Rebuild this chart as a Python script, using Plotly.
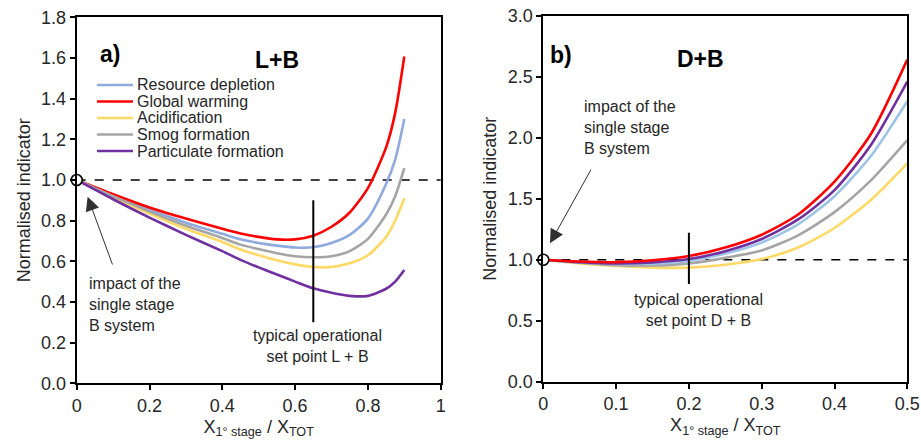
import plotly.graph_objects as go

# ---------------- data ----------------
series_names = ["Resource depletion", "Global warming", "Acidification",
                "Smog formation", "Particulate formation"]

# Panel a) L+B
x_lb = [0, 0.1, 0.2, 0.3, 0.4, 0.45, 0.5, 0.55, 0.6, 0.65, 0.7, 0.75, 0.8, 0.85, 0.875, 0.9]
rd_lb = [1.0, 0.925, 0.855, 0.79, 0.735, 0.708, 0.69, 0.677, 0.668, 0.669, 0.69, 0.73, 0.81, 0.98, 1.10, 1.30]
gw_lb = [1.0, 0.93, 0.865, 0.81, 0.76, 0.737, 0.72, 0.708, 0.708, 0.726, 0.77, 0.84, 0.96, 1.16, 1.33, 1.607]
ac_lb = [1.0, 0.915, 0.835, 0.76, 0.695, 0.658, 0.63, 0.605, 0.585, 0.572, 0.572, 0.59, 0.63, 0.72, 0.80, 0.91]
sm_lb = [1.0, 0.92, 0.845, 0.775, 0.715, 0.682, 0.66, 0.64, 0.625, 0.62, 0.625, 0.65, 0.71, 0.83, 0.92, 1.058]
pm_lb = [1.0, 0.905, 0.815, 0.73, 0.65, 0.607, 0.57, 0.535, 0.50, 0.467, 0.445, 0.43, 0.43, 0.465, 0.50, 0.557]

# Panel b) D+B
x_db = [0, 0.05, 0.1, 0.15, 0.2, 0.25, 0.3, 0.35, 0.4, 0.45, 0.5]
gw_db = [1.0, 0.985, 0.98, 0.995, 1.03, 1.10, 1.205, 1.37, 1.64, 2.03, 2.64]
pm_db = [1.0, 0.98, 0.97, 0.978, 1.005, 1.07, 1.17, 1.33, 1.57, 1.94, 2.46]
rd_db = [1.0, 0.978, 0.965, 0.968, 0.99, 1.05, 1.14, 1.29, 1.52, 1.85, 2.30]
sm_db = [1.0, 0.975, 0.955, 0.952, 0.97, 1.015, 1.075, 1.20, 1.39, 1.65, 1.98]
ac_db = [1.0, 0.97, 0.948, 0.935, 0.935, 0.958, 1.005, 1.10, 1.26, 1.49, 1.79]

# axis ticks
yticks_a = [0, 0.2, 0.4, 0.6, 0.8, 1.0, 1.2, 1.4, 1.6, 1.8]
xticks_a = [0, 0.2, 0.4, 0.6, 0.8, 1]
xticklabels_a = ["0", "0.2", "0.4", "0.6", "0.8", "1"]
yticks_b = [0, 0.5, 1.0, 1.5, 2.0, 2.5, 3.0]
xticks_b = [0, 0.1, 0.2, 0.3, 0.4, 0.5]
xticklabels_b = ["0", "0.1", "0.2", "0.3", "0.4", "0.5"]

setpoint_a = 0.65
setpoint_b = 0.2

# ---------------- styling ----------------
FONT = "Liberation Sans, Arial, sans-serif"
TXT = "#262626"
C_RD_A = "#8FAADC"
C_RD_B = "#9DC3E6"
C_GW = "#FF0000"
C_AC = "#FFD966"
C_SM = "#A5A5A5"
C_PM = "#7030A0"
LW = 2.6
W, H = 921, 442

fig = go.Figure()

def add_line(x, y, name, color, xa, ya):
    fig.add_trace(go.Scatter(x=x, y=y, name=name, mode="lines",
                             line=dict(color=color, width=LW, shape="spline", smoothing=0.7),
                             xaxis=xa, yaxis=ya, showlegend=False))

# panel a
add_line(x_lb, rd_lb, series_names[0], C_RD_A, "x", "y")
add_line(x_lb, gw_lb, series_names[1], C_GW, "x", "y")
add_line(x_lb, ac_lb, series_names[2], C_AC, "x", "y")
add_line(x_lb, sm_lb, series_names[3], C_SM, "x", "y")
add_line(x_lb, pm_lb, series_names[4], C_PM, "x", "y")

# panel b
add_line(x_db, ac_db, series_names[2], C_AC, "x2", "y2")
add_line(x_db, sm_db, series_names[3], C_SM, "x2", "y2")
add_line(x_db, rd_db, series_names[0], C_RD_B, "x2", "y2")
add_line(x_db, pm_db, series_names[4], C_PM, "x2", "y2")
add_line(x_db, gw_db, series_names[1], C_GW, "x2", "y2")

# setpoint vertical lines
fig.add_trace(go.Scatter(x=[setpoint_a, setpoint_a], y=[0.3, 0.9], mode="lines",
                         line=dict(color="black", width=2), xaxis="x", yaxis="y", showlegend=False))
fig.add_trace(go.Scatter(x=[setpoint_b, setpoint_b], y=[0.8, 1.22], mode="lines",
                         line=dict(color="black", width=2), xaxis="x2", yaxis="y2", showlegend=False))

# single-stage reference points
for xa, ya in (("x", "y"), ("x2", "y2")):
    fig.add_trace(go.Scatter(x=[0], y=[1.0], mode="markers", cliponaxis=False,
                             marker=dict(size=11, color="white", line=dict(color="black", width=1.6)),
                             xaxis=xa, yaxis=ya, showlegend=False))

# dashed reference lines at 1.0
for xr, yr in (("x domain", "y"), ("x2 domain", "y2")):
    fig.add_shape(type="line", xref=xr, yref=yr, x0=0, x1=1, y0=1, y1=1,
                  line=dict(color="black", width=1.5, dash="dash"), layer="below")

# manual legend (panel a)
legend_colors = [C_RD_A, C_GW, C_AC, C_SM, C_PM]
legend_rows_px = [85, 101.5, 118, 134.5, 151]
ann = []
for name, col, ypx in zip(series_names, legend_colors, legend_rows_px):
    fig.add_shape(type="line", xref="paper", yref="paper",
                  x0=97 / W, x1=133 / W, y0=1 - ypx / H, y1=1 - ypx / H,
                  line=dict(color=col, width=LW))
    ann.append(dict(text=name, xref="paper", yref="paper", x=135 / W, y=1 - ypx / H,
                    xanchor="left", yanchor="middle", showarrow=False,
                    font=dict(size=16, family=FONT, color=TXT)))

axis_common = dict(showline=True, linecolor="black", linewidth=2, mirror=True,
                   ticks="outside", ticklen=5, tickwidth=1.5, tickcolor="black",
                   showgrid=False, zeroline=False, automargin=False,
                   tickfont=dict(family=FONT, size=18, color=TXT))

xtitle = "X<sub>1° stage</sub> / X<sub>TOT</sub>"
tfont = dict(size=18, family=FONT, color=TXT)

fig.update_layout(
    width=W, height=H,
    margin=dict(l=0, r=0, t=0, b=0),
    paper_bgcolor="white", plot_bgcolor="white",
    font=dict(family=FONT, color=TXT),
    xaxis=dict(domain=[76.7 / W, 440.7 / W], range=[0, 1], anchor="y",
               tickvals=xticks_a, ticktext=xticklabels_a,
               title=dict(text=xtitle, font=tfont, standoff=5), **axis_common),
    yaxis=dict(domain=[1 - 383.3 / H, 1 - 17.3 / H], range=[0, 1.8], anchor="x",
               tickvals=yticks_a, tickformat=".1f",
               title=dict(text="Normalised indicator", font=tfont, standoff=6), **axis_common),
    xaxis2=dict(domain=[543.3 / W, 907.3 / W], range=[0, 0.5], anchor="y2",
                tickvals=xticks_b, ticktext=xticklabels_b,
                title=dict(text=xtitle, font=tfont, standoff=5), **axis_common),
    yaxis2=dict(domain=[1 - 381.7 / H, 1 - 15.7 / H], range=[0, 3.0], anchor="x2",
                tickvals=yticks_b, tickformat=".1f",
                title=dict(text="Normalised indicator", font=tfont, standoff=6), **axis_common),
    showlegend=False,
)

# panel labels and titles
bold = dict(size=23, family=FONT, color="black")
ann.append(dict(text="<b>a)</b>", xref="paper", yref="paper", x=97.5 / W, y=1 - 39 / H,
                showarrow=False, font=bold))
ann.append(dict(text="<b>L+B</b>", xref="paper", yref="paper", x=253 / W, y=1 - 45 / H,
                showarrow=False, font=bold))
ann.append(dict(text="<b>b)</b>", xref="paper", yref="paper", x=561 / W, y=1 - 40 / H,
                showarrow=False, font=bold))
ann.append(dict(text="<b>D+B</b>", xref="paper", yref="paper", x=726 / W, y=1 - 44.5 / H,
                showarrow=False, font=bold))

# arrows
ann.append(dict(x=0.030, y=0.918, ax=0.0997, ay=0.577, xref="x", yref="y", axref="x", ayref="y",
                text="", showarrow=True, arrowhead=2, arrowsize=2.8, arrowwidth=1, arrowcolor="#303030"))
ann.append(dict(x=0.0092, y=1.134, ax=0.0665, ay=1.749, xref="x2", yref="y2", axref="x2", ayref="y2",
                text="", showarrow=True, arrowhead=2, arrowsize=2.8, arrowwidth=1, arrowcolor="#303030"))

# texts
sfont = dict(size=16, family=FONT, color=TXT)
ann.append(dict(text="impact of the<br>single stage<br>B system", xref="x", yref="y",
                x=0.0275, y=0.389, xanchor="left", yanchor="middle", align="left", showarrow=False,
                font=sfont))
ann.append(dict(text="impact of the<br>single stage<br>B system", xref="x2", yref="y2",
                x=0.0527, y=2.08, xanchor="left", yanchor="middle", align="left", showarrow=False,
                font=sfont))
ann.append(dict(text="typical operational<br>set point L + B", xref="x", yref="y",
                x=0.661, y=0.185, xanchor="center", yanchor="middle", align="center", showarrow=False,
                font=sfont))
ann.append(dict(text="typical operational<br>set point D + B", xref="x2", yref="y2",
                x=0.2136, y=0.589, xanchor="center", yanchor="middle", align="center", showarrow=False,
                font=sfont))

fig.update_layout(annotations=ann)

fig.write_html("out.html", config={"displayModeBar": False},
               post_script="document.body.style.margin='0px';document.body.style.overflow='hidden';")
